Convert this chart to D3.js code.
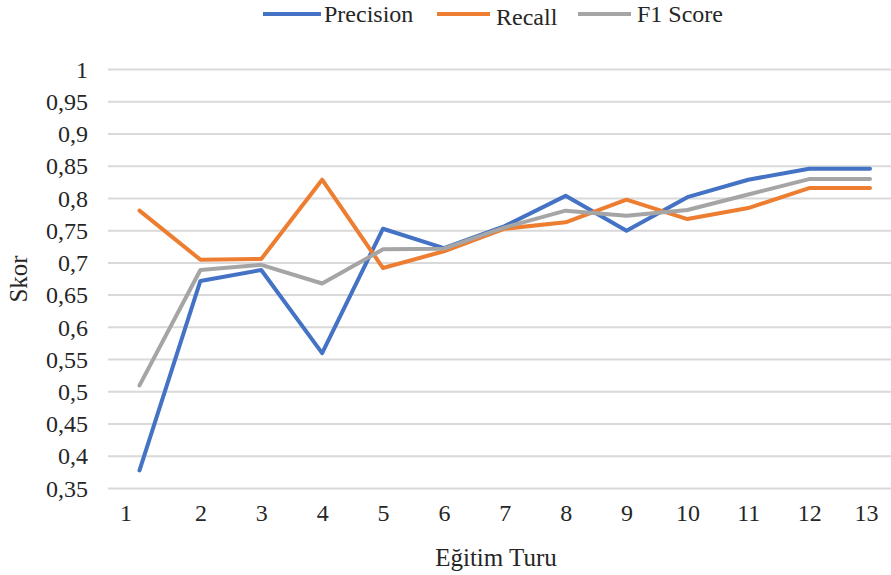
<!DOCTYPE html>
<html>
<head>
<meta charset="utf-8">
<script src="https://cdn.jsdelivr.net/npm/d3@7"></script>
<style>
  html, body { margin: 0; padding: 0; background: #fff; }
  svg { display: block; }
</style>
</head>
<body>
<script>
const rounds = [1, 2, 3, 4, 5, 6, 7, 8, 9, 10, 11, 12, 13];
const precision = [0.378, 0.672, 0.689, 0.560, 0.753, 0.723, 0.757, 0.804, 0.750, 0.802, 0.829, 0.846, 0.846];
const recall    = [0.781, 0.705, 0.706, 0.829, 0.692, 0.718, 0.753, 0.763, 0.798, 0.768, 0.785, 0.816, 0.816];
const f1        = [0.510, 0.689, 0.697, 0.668, 0.721, 0.722, 0.755, 0.781, 0.773, 0.782, 0.806, 0.830, 0.830];
const yTicks = [0.35, 0.4, 0.45, 0.5, 0.55, 0.6, 0.65, 0.7, 0.75, 0.8, 0.85, 0.9, 0.95, 1];
const seriesNames = ["Precision", "Recall", "F1 Score"];
const seriesColors = ["#4472C4", "#ED7D31", "#A5A5A5"];
const seriesValues = [precision, recall, f1];
const xTitle = "Eğitim Turu";
const yTitle = "Skor";

const FONT = "'Liberation Serif', 'Times New Roman', 'DejaVu Serif', serif";
const TXT = "#262626";
const W = 891, H = 575;
const svg = d3.select("body").append("svg").attr("width", W).attr("height", H)
  .attr("font-family", FONT);

const x = d3.scaleLinear().domain([1, 13]).range([139.5, 870]);
const y = d3.scaleLinear().domain([0.35, 1]).range([488.5, 69.5]);
const gridLeft = 108, gridRight = 891;

// grid lines
svg.append("g").selectAll("line").data(yTicks).join("line")
  .attr("x1", gridLeft).attr("x2", gridRight)
  .attr("y1", d => y(d)).attr("y2", d => y(d))
  .attr("stroke", "#d9d9d9").attr("stroke-width", 2);

// y axis labels
const fmt = d => String(+d.toFixed(2)).replace(".", ",");
const yAxis = d3.axisLeft(y).tickValues(yTicks).tickFormat(fmt).tickSize(0).tickPadding(0);
const gy = svg.append("g").attr("transform", "translate(88,0)").call(yAxis)
  .attr("font-family", FONT).attr("font-size", 24);
gy.select(".domain").remove();
gy.selectAll("text").attr("fill", TXT).attr("font-family", FONT).attr("font-size", 24);

// x axis labels
const xAxis = d3.axisBottom(x).tickValues(rounds).tickFormat(d => String(d)).tickSize(0).tickPadding(0);
const gx = svg.append("g").attr("transform", "translate(0,504)").call(xAxis)
  .attr("font-family", FONT).attr("font-size", 24);
gx.select(".domain").remove();
gx.selectAll("text").attr("fill", TXT).attr("font-family", FONT).attr("font-size", 24)
  .attr("dx", (d, i) => i === 0 ? -14 : (i === rounds.length - 1 ? -4 : 0));

// lines
const line = d3.line().x((d, i) => x(rounds[i])).y(d => y(d));
svg.append("g").selectAll("path").data(seriesValues).join("path")
  .attr("d", d => line(d))
  .attr("fill", "none")
  .attr("stroke", (d, i) => seriesColors[i])
  .attr("stroke-width", 4)
  .attr("stroke-linejoin", "round")
  .attr("stroke-linecap", "round");

// axis titles
svg.append("text").attr("x", 496).attr("y", 566).attr("text-anchor", "middle")
  .attr("font-family", FONT).attr("font-size", 25).attr("fill", TXT).text(xTitle);
svg.append("text").attr("transform", "translate(27,279) rotate(-90)").attr("text-anchor", "middle")
  .attr("font-family", FONT).attr("font-size", 25).attr("fill", TXT).text(yTitle);

// legend
const legendX = [263, 437, 578];
const lg = svg.append("g").selectAll("g").data(seriesNames).join("g")
  .attr("transform", (d, i) => `translate(${legendX[i]},0)`);
lg.append("line").attr("x1", 0).attr("x2", (d, i) => i === 0 ? 58 : 53)
  .attr("y1", 14).attr("y2", 14)
  .attr("stroke", (d, i) => seriesColors[i]).attr("stroke-width", 4);
lg.append("text").attr("x", (d, i) => i === 0 ? 61 : 59)
  .attr("y", (d, i) => i === 1 ? 25 : 22)
  .attr("font-family", FONT).attr("font-size", 24).attr("fill", TXT).text(d => d);
</script>
</body>
</html>
